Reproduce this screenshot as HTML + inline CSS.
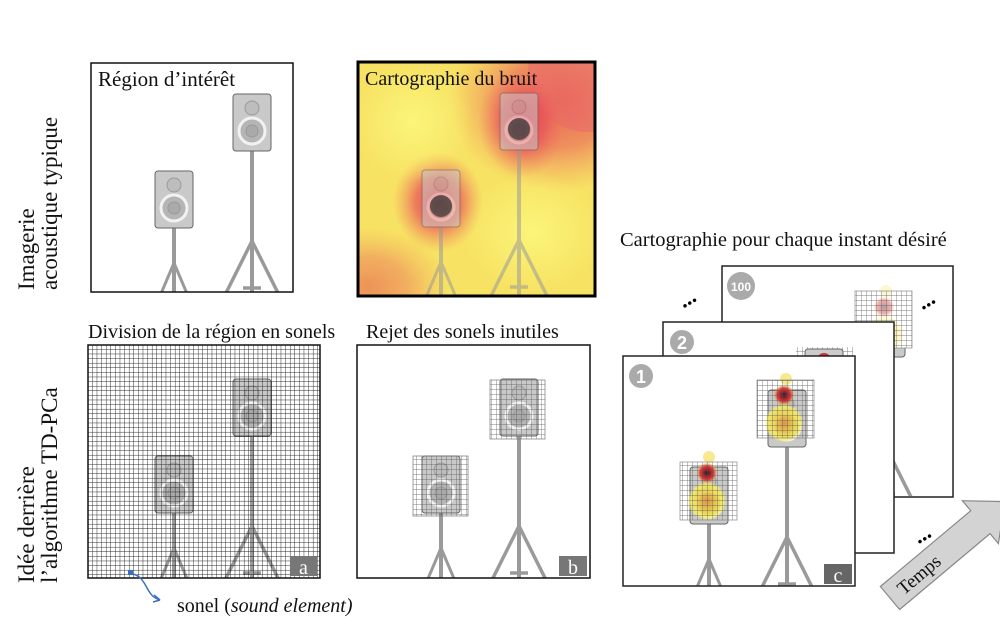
<!DOCTYPE html>
<html><head><meta charset="utf-8"><style>
html,body{margin:0;padding:0;background:#fff;}
svg{display:block;font-family:"Liberation Serif",serif;}
</style></head><body>
<svg width="1000" height="629" viewBox="0 0 1000 629" xmlns="http://www.w3.org/2000/svg">
<defs>
  <pattern id="grid" width="4.6" height="4.6" patternUnits="userSpaceOnUse">
    <path d="M4.6 0V4.6H0" fill="none" stroke="#222" stroke-width="0.9"/>
  </pattern>
  <pattern id="gridL" width="5" height="5" patternUnits="userSpaceOnUse">
    <path d="M5 0V5H0" fill="none" stroke="#555" stroke-width="0.7"/>
  </pattern>
  <g id="spk">
    <rect x="0" y="0" width="38" height="57" rx="3" fill="#c9c9c9" stroke="#666" stroke-width="1"/>
    <circle cx="19" cy="14" r="7" fill="#bdbdbd"/>
    <circle cx="19" cy="37" r="13" fill="#b5b5b5" stroke="#f2f2f2" stroke-width="3"/>
    <circle cx="19" cy="37" r="6" fill="#aaa"/>
  </g>
  <g id="scene" stroke="#9a9a9a" fill="none">
    <line x1="83" y1="165" x2="83" y2="240" stroke-width="4"/>
    <path d="M83 200 L66 240 M83 200 L100 240 M83 210 V240" stroke-width="3"/>
    <line x1="161" y1="88" x2="161" y2="240" stroke-width="4"/>
    <path d="M161 178 L130 240 M161 178 L192 240 M152 225 L170 225" stroke-width="3.5"/>
    <use href="#spk" x="64" y="108"/>
    <use href="#spk" x="142" y="31"/>
  </g>
  <clipPath id="c1"><rect x="0" y="0" width="202" height="229"/></clipPath>
  <clipPath id="c2"><rect x="0" y="0" width="237" height="234"/></clipPath>
  <clipPath id="ca"><rect x="0" y="0" width="232" height="233"/></clipPath>
  <clipPath id="cc"><rect x="0" y="0" width="231" height="230"/></clipPath>
  <radialGradient id="hot" cx="0.5" cy="0.5" r="0.5">
    <stop offset="0" stop-color="#e23a4a" stop-opacity="0.95"/>
    <stop offset="0.5" stop-color="#e8505a" stop-opacity="0.7"/>
    <stop offset="1" stop-color="#f08060" stop-opacity="0"/>
  </radialGradient>
  <radialGradient id="yel" cx="0.5" cy="0.5" r="0.5">
    <stop offset="0" stop-color="#fbf57a" stop-opacity="1"/>
    <stop offset="1" stop-color="#fbf57a" stop-opacity="0"/>
  </radialGradient>
  <radialGradient id="dot" cx="0.5" cy="0.5" r="0.5">
    <stop offset="0" stop-color="#222"/>
    <stop offset="0.35" stop-color="#a0202a"/>
    <stop offset="0.7" stop-color="#e04040"/>
    <stop offset="1" stop-color="#f5b040" stop-opacity="0.3"/>
  </radialGradient>
  <radialGradient id="ydot" cx="0.5" cy="0.5" r="0.5">
    <stop offset="0" stop-color="#e8903a"/>
    <stop offset="0.5" stop-color="#f0d040"/>
    <stop offset="0.85" stop-color="#f8f060"/>
    <stop offset="1" stop-color="#f8f060" stop-opacity="0.2"/>
  </radialGradient>
  <g id="heatspk">
    <circle cx="29" cy="-4" r="6" fill="#f5e060" opacity="0.7"/>
    <circle cx="27" cy="12" r="10" fill="url(#dot)"/>
    <circle cx="27" cy="40" r="19" fill="url(#ydot)" opacity="0.85"/>
  </g>
</defs>

<!-- left labels -->
<text transform="translate(34,290) rotate(-90)" font-size="23" fill="#111">Imagerie</text>
<text transform="translate(57,290) rotate(-90)" font-size="23" fill="#111">acoustique typique</text>
<text transform="translate(34,583) rotate(-90)" font-size="23" fill="#111">Idée derrière</text>
<text transform="translate(57,583) rotate(-90)" font-size="23" fill="#111">l’algorithme TD-PCa</text>

<!-- Panel 1 -->
<g transform="translate(91,63)">
  <rect width="202" height="229" fill="#fff"/>
  <g clip-path="url(#c1)"><use href="#scene"/></g>
  <rect width="202" height="229" fill="none" stroke="#111" stroke-width="1.5"/>
  <text x="7" y="23" font-size="21" fill="#111">Région d’intérêt</text>
</g>

<!-- Panel 2 heatmap -->
<g transform="translate(358,62)">
  <g clip-path="url(#c2)">
    <rect width="237" height="234" fill="#f7e263"/>
    <ellipse cx="200" cy="40" rx="110" ry="90" fill="url(#hot)" opacity="0.8"/>
    <ellipse cx="230" cy="10" rx="60" ry="60" fill="#ea6a6a" opacity="0.6"/>
    <ellipse cx="165" cy="60" rx="45" ry="55" fill="url(#hot)"/>
    <ellipse cx="80" cy="140" rx="45" ry="50" fill="url(#hot)"/>
    <ellipse cx="10" cy="225" rx="80" ry="60" fill="url(#hot)" opacity="0.5"/>
    <ellipse cx="55" cy="60" rx="60" ry="60" fill="url(#yel)"/>
    <ellipse cx="175" cy="170" rx="70" ry="60" fill="url(#yel)"/>
    <g opacity="0.55"><use href="#scene"/></g>
    <circle cx="83" cy="144" r="11" fill="#333" opacity="0.7"/>
    <circle cx="161" cy="67" r="11" fill="#333" opacity="0.7"/>
  </g>
  <rect width="237" height="234" fill="none" stroke="#000" stroke-width="3"/>
  <text x="7" y="23" font-size="20" fill="#111">Cartographie du bruit</text>
</g>

<!-- Panel a -->
<text x="88" y="338" font-size="20" fill="#111">Division de la région en sonels</text>
<g transform="translate(88,345)">
  <rect width="232" height="233" fill="#fff"/>
  <g clip-path="url(#ca)"><use href="#scene" x="3" y="3"/>
    <rect width="232" height="233" fill="url(#grid)"/>
  </g>
  <rect width="232" height="233" fill="none" stroke="#111" stroke-width="1.5"/>
  <rect x="202" y="211" width="27" height="20" fill="#777"/>
  <text x="215.5" y="229" font-size="20" fill="#fff" text-anchor="middle">a</text>
</g>
<rect x="128" y="570" width="5" height="5" fill="#3a6fc0"/>
<path d="M133 574 C148 578 145 596 160 600" fill="none" stroke="#3a6fc0" stroke-width="1.5"/>
<path d="M160 600 l-6 -5 M160 600 l-7 2" stroke="#3a6fc0" stroke-width="1.5" fill="none"/>
<text x="177" y="612" font-size="20" fill="#111">sonel (<tspan font-style="italic">sound element)</tspan></text>

<!-- Panel b -->
<text x="366" y="338" font-size="20" fill="#111">Rejet des sonels inutiles</text>
<g transform="translate(357,345)">
  <rect width="233" height="233" fill="#fff"/>
  <g clip-path="url(#ca)"><use href="#scene" x="1" y="3"/></g>
  <rect x="56" y="111" width="55" height="60" fill="url(#gridL)" stroke="#777" stroke-width="0.7"/>
  <rect x="133" y="35" width="55" height="59" fill="url(#gridL)" stroke="#777" stroke-width="0.7"/>
  <rect width="233" height="233" fill="none" stroke="#111" stroke-width="1.5"/>
  <rect x="202" y="211" width="28" height="20" fill="#777"/>
  <text x="216" y="229" font-size="20" fill="#fff" text-anchor="middle">b</text>
</g>

<!-- Panel c stack -->
<text x="620" y="246" font-size="20.5" fill="#111">Cartographie pour chaque instant désiré</text>
<g transform="translate(722,266)">
  <rect width="231" height="231" fill="#fff" stroke="#222" stroke-width="1.5"/>
  <g clip-path="url(#cc)"><use href="#scene" x="3" y="3"/></g>
  <rect x="133" y="25" width="57" height="57" fill="#fff"/>
  <g transform="translate(133,25)"><g opacity="0.4"><use href="#heatspk" x="2" y="4"/></g></g>
  <rect x="133" y="25" width="57" height="57" fill="url(#gridL)" stroke="#888" stroke-width="0.7"/>
  <circle cx="19" cy="20" r="14" fill="#aaa"/>
  <text x="19" y="25" font-size="12" font-weight="bold" fill="#fff" text-anchor="middle" font-family="Liberation Sans, sans-serif">100</text>
</g>
<g transform="translate(663,322)">
  <rect width="231" height="231" fill="#fff" stroke="#222" stroke-width="1.5"/>
  <rect x="133" y="25" width="57" height="30" fill="url(#gridL)"/>
  <rect x="142" y="27" width="38" height="30" rx="3" fill="#ccc" stroke="#666"/>
  <circle cx="161" cy="38" r="7" fill="#c33"/>
  <circle cx="19" cy="20" r="12" fill="#aaa"/>
  <text x="19" y="27" font-size="18" font-weight="bold" fill="#fff" text-anchor="middle" font-family="Liberation Sans, sans-serif">2</text>
</g>
<g transform="translate(623,356)">
  <rect width="232" height="230" fill="#fff"/>
  <g clip-path="url(#cc)"><use href="#scene" x="3" y="3"/></g>
  <g transform="translate(57,105)"><use href="#heatspk"/></g>
  <rect x="57" y="106" width="57" height="58" fill="url(#gridL)" stroke="#888" stroke-width="0.7"/>
  <g transform="translate(134,27)"><use href="#heatspk"/></g>
  <rect x="134" y="24" width="57" height="58" fill="url(#gridL)" stroke="#888" stroke-width="0.7"/>
  <rect width="232" height="230" fill="none" stroke="#222" stroke-width="1.5"/>
  <circle cx="18" cy="20" r="12" fill="#aaa"/>
  <text x="18" y="27" font-size="18" font-weight="bold" fill="#fff" text-anchor="middle" font-family="Liberation Sans, sans-serif">1</text>
  <rect x="201" y="208" width="28" height="20" fill="#666"/>
  <text x="215" y="226" font-size="20" fill="#fff" text-anchor="middle">c</text>
</g>
<!-- dots -->
<text x="680" y="304" font-size="22" font-weight="bold" fill="#000" transform="rotate(-30 690 300)">...</text>
<text x="918" y="306" font-size="22" font-weight="bold" fill="#000" transform="rotate(-30 928 300)">...</text>
<text x="914" y="540" font-size="22" font-weight="bold" fill="#000" transform="rotate(-30 924 534)">...</text>

<!-- Temps arrow -->
<g transform="translate(890,598) rotate(-40)">
  <path d="M0 -15 H118 V-28 L150 0 L118 28 V15 H0 Z" fill="#d3d3d3" stroke="#888" stroke-width="1.2"/>
  <text x="12" y="7" font-size="19" fill="#111">Temps</text>
</g>
</svg>
</body></html>
